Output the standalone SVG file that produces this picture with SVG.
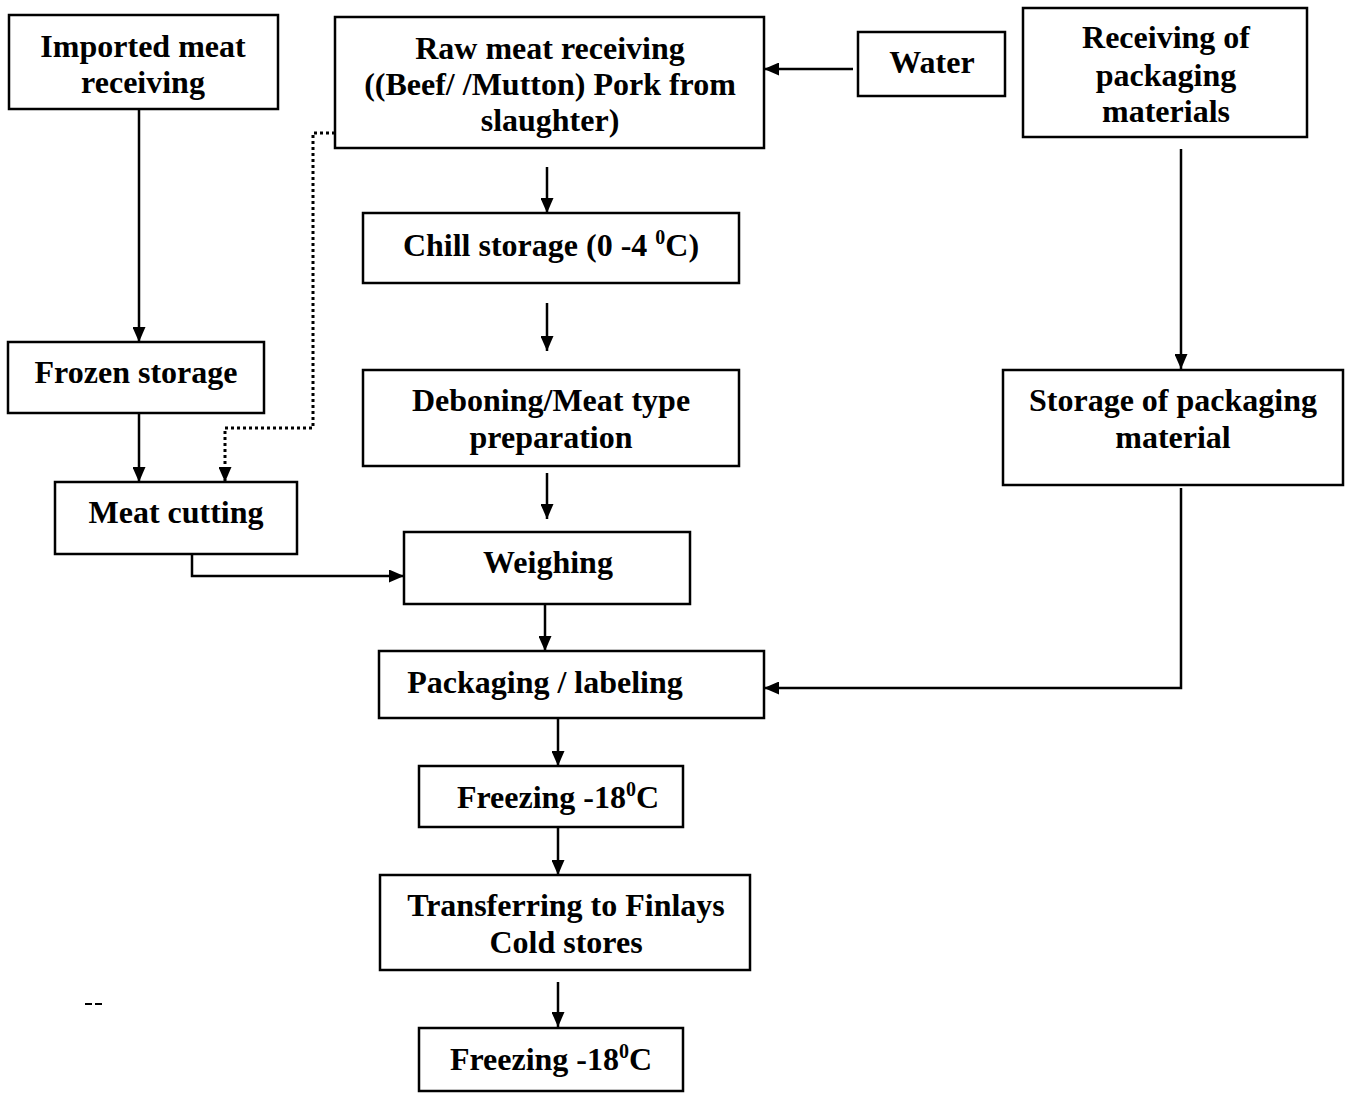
<svg xmlns="http://www.w3.org/2000/svg" width="1348" height="1093" viewBox="0 0 1348 1093">
  <style>
    .box { fill: #ffffff; stroke: #000000; stroke-width: 2.5; }
    .lbl { font-family: "Liberation Serif", "DejaVu Serif", serif; font-size: 32px; font-weight: bold; fill: #000000; text-anchor: middle; }
    .sup { font-size: 20px; }
    .flow { fill: none; stroke: #000000; stroke-width: 2.5; }
    .dotted { fill: none; stroke: #000000; stroke-width: 3; stroke-dasharray: 3 3; }
  </style>
  <defs>
    <marker id="arrow" viewBox="0 0 15 13" refX="15" refY="6.5" markerWidth="15" markerHeight="13" markerUnits="userSpaceOnUse" orient="auto">
      <path d="M0,0 L15,6.5 L0,13 Z" fill="#000000"/>
    </marker>
  </defs>
  <rect width="1348" height="1093" fill="#ffffff"/>

  <!-- connectors -->
  <g id="connectors">
    <path class="flow" d="M139,109 V342" marker-end="url(#arrow)"/>
    <path class="flow" d="M139,413 V482" marker-end="url(#arrow)"/>
    <path class="dotted" d="M335,133 H313 V428 H225 V482" marker-end="url(#arrow)"/>
    <path class="flow" d="M192,554 V576 H404" marker-end="url(#arrow)"/>
    <path class="flow" d="M853,69 H764" marker-end="url(#arrow)"/>
    <path class="flow" d="M547,167 V213" marker-end="url(#arrow)"/>
    <path class="flow" d="M547,303 V351" marker-end="url(#arrow)"/>
    <path class="flow" d="M547,473 V519" marker-end="url(#arrow)"/>
    <path class="flow" d="M545,604 V651" marker-end="url(#arrow)"/>
    <path class="flow" d="M558,718 V766" marker-end="url(#arrow)"/>
    <path class="flow" d="M558,827 V875" marker-end="url(#arrow)"/>
    <path class="flow" d="M558,982 V1027" marker-end="url(#arrow)"/>
    <path class="flow" d="M1181,149 V369" marker-end="url(#arrow)"/>
    <path class="flow" d="M1181,488 V688 H764" marker-end="url(#arrow)"/>
  </g>

  <!-- nodes -->
  <g id="imported-meat">
    <rect class="box" x="9" y="15" width="269" height="94"/>
    <text class="lbl" x="143" y="57">Imported meat</text>
    <text class="lbl" x="143" y="93">receiving</text>
  </g>
  <g id="raw-meat">
    <rect class="box" x="335" y="17" width="429" height="131"/>
    <text class="lbl" x="550" y="59">Raw meat receiving</text>
    <text class="lbl" x="550" y="95">((Beef/ /Mutton) Pork from</text>
    <text class="lbl" x="550" y="131">slaughter)</text>
  </g>
  <g id="water">
    <rect class="box" x="858" y="32" width="147" height="64"/>
    <text class="lbl" x="932" y="73">Water</text>
  </g>
  <g id="receiving-packaging">
    <rect class="box" x="1023" y="8" width="284" height="129"/>
    <text class="lbl" x="1166" y="48">Receiving of</text>
    <text class="lbl" x="1166" y="86">packaging</text>
    <text class="lbl" x="1166" y="122">materials</text>
  </g>
  <g id="chill-storage">
    <rect class="box" x="363" y="213" width="376" height="70"/>
    <text class="lbl" x="551" y="256">Chill storage (0 -4 <tspan class="sup" dy="-12">0</tspan><tspan dy="12">C)</tspan></text>
  </g>
  <g id="frozen-storage">
    <rect class="box" x="8" y="342" width="256" height="71"/>
    <text class="lbl" x="136" y="383">Frozen storage</text>
  </g>
  <g id="deboning">
    <rect class="box" x="363" y="370" width="376" height="96"/>
    <text class="lbl" x="551" y="411">Deboning/Meat type</text>
    <text class="lbl" x="551" y="448">preparation</text>
  </g>
  <g id="storage-packaging">
    <rect class="box" x="1003" y="370" width="340" height="115"/>
    <text class="lbl" x="1173" y="411">Storage of packaging</text>
    <text class="lbl" x="1173" y="448">material</text>
  </g>
  <g id="meat-cutting">
    <rect class="box" x="55" y="482" width="242" height="72"/>
    <text class="lbl" x="176" y="523">Meat cutting</text>
  </g>
  <g id="weighing">
    <rect class="box" x="404" y="532" width="286" height="72"/>
    <text class="lbl" x="548" y="573">Weighing</text>
  </g>
  <g id="packaging-labeling">
    <rect class="box" x="379" y="651" width="385" height="67"/>
    <text class="lbl" x="545" y="693">Packaging / labeling</text>
  </g>
  <g id="freezing-1">
    <rect class="box" x="419" y="766" width="264" height="61"/>
    <text class="lbl" x="558" y="808">Freezing -18<tspan class="sup" dy="-12">0</tspan><tspan dy="12">C</tspan></text>
  </g>
  <g id="transferring">
    <rect class="box" x="380" y="875" width="370" height="95"/>
    <text class="lbl" x="566" y="916">Transferring to Finlays</text>
    <text class="lbl" x="566" y="953">Cold stores</text>
  </g>
  <g id="freezing-2">
    <rect class="box" x="419" y="1028" width="264" height="63"/>
    <text class="lbl" x="551" y="1070">Freezing -18<tspan class="sup" dy="-12">0</tspan><tspan dy="12">C</tspan></text>
  </g>

  <!-- small stray mark at lower left -->
  <path d="M85,1004 H103" stroke="#000000" stroke-width="2" stroke-dasharray="7 3"/>
</svg>
